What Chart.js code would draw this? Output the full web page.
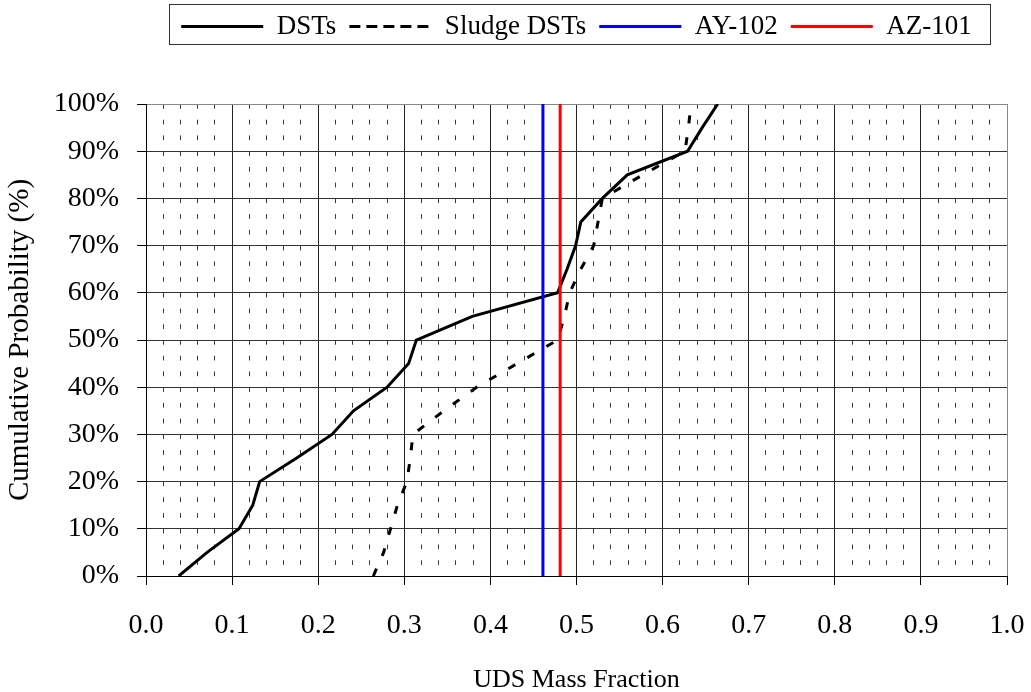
<!DOCTYPE html>
<html>
<head>
<meta charset="utf-8">
<script src="https://cdn.jsdelivr.net/npm/chart.js@4.4.1/dist/chart.umd.min.js"></script>
<style>
  html, body { margin: 0; padding: 0; background: #ffffff; overflow: hidden; }
  #wrap { width: 1031px; height: 692px; position: relative; }
</style>
</head>
<body>
<div id="wrap"><canvas id="c"></canvas></div>
<script>
// Cumulative probability levels shared by both distributions (0 % .. 100 % in 5 % steps)
const cumulativeProbability = [0, 0.05, 0.10, 0.15, 0.20, 0.25, 0.30, 0.35, 0.40, 0.45, 0.50,
                               0.55, 0.60, 0.65, 0.70, 0.75, 0.80, 0.85, 0.90, 0.95, 1.00];

// UDS mass fraction at each probability level
const dstsMassFraction = [0.038, 0.071, 0.108, 0.124, 0.132, 0.175, 0.216, 0.241, 0.280, 0.305, 0.314,
                          0.379, 0.478, 0.489, 0.499, 0.505, 0.530, 0.559, 0.629, 0.646, 0.664];
const sludgeDstsMassFraction = [0.264, 0.276, 0.284, 0.292, 0.303, 0.307, 0.310, 0.346, 0.384, 0.431, 0.478,
                                0.486, 0.492, 0.505, 0.520, 0.525, 0.530, 0.577, 0.626, 0.630, 0.633];

// Single-tank reference values
const ay102MassFraction = 0.461;
const az101MassFraction = 0.481;

// Axis tick labels
const xTickLabels = ['0.0', '0.1', '0.2', '0.3', '0.4', '0.5', '0.6', '0.7', '0.8', '0.9', '1.0'];
const yTickLabels = ['0%', '10%', '20%', '30%', '40%', '50%', '60%', '70%', '80%', '90%', '100%'];

// Layout
const PLOT_LEFT = 146, PLOT_TOP = 104, PLOT_BOTTOM = 576, RIGHT_PAD = 24;
const FONT = "'Liberation Serif', 'Times New Roman', serif";

const toPoints = (xs, ys) => xs.map((x, i) => ({ x: x, y: ys[i] }));
const verticalAt = (x) => [{ x: x, y: 0 }, { x: x, y: 1 }];

// Keeps the legend band a fixed height and draws a frame round the legend items
const legendFrame = {
  id: 'legendFrame',
  afterInit(chart) {
    const lg = chart.legend;
    const fit = lg.fit.bind(lg);
    lg.fit = function () { fit(); this.height = PLOT_TOP; };
  },
  afterDraw(chart) {
    const boxes = chart.legend && chart.legend.legendHitBoxes;
    if (!boxes || !boxes.length) return;
    const first = boxes[0], last = boxes[boxes.length - 1];
    const ctx = chart.ctx;
    ctx.save();
    ctx.strokeStyle = '#333333';
    ctx.lineWidth = 1;
    const x1 = Math.round(first.left - 12) + 0.5;
    const x2 = Math.round(last.left + last.width + 18) + 0.5;
    ctx.strokeRect(x1, 4.5, x2 - x1, 40);
    ctx.restore();
  }
};

Chart.defaults.font.family = FONT;
Chart.defaults.color = '#000000';

new Chart(document.getElementById('c'), {
  type: 'scatter',
  data: {
    datasets: [
      { label: 'DSTs', data: toPoints(dstsMassFraction, cumulativeProbability),
        showLine: true, borderColor: '#000000', backgroundColor: '#000000', borderWidth: 3,
        pointRadius: 0, tension: 0, order: 2 },
      { label: 'Sludge DSTs', data: toPoints(sludgeDstsMassFraction, cumulativeProbability),
        showLine: true, borderColor: '#000000', backgroundColor: '#000000', borderWidth: 3,
        borderDash: [8, 14], pointRadius: 0, tension: 0, order: 2 },
      { label: 'AY-102', data: verticalAt(ay102MassFraction),
        showLine: true, borderColor: '#0000ff', backgroundColor: '#0000ff', borderWidth: 3,
        pointRadius: 0, order: 1 },
      { label: 'AZ-101', data: verticalAt(az101MassFraction),
        showLine: true, borderColor: '#ff0000', backgroundColor: '#ff0000', borderWidth: 3,
        pointRadius: 0, order: 1 }
    ]
  },
  options: {
    responsive: true,
    maintainAspectRatio: false,
    devicePixelRatio: 1,
    animation: false,
    layout: { padding: { left: 0, right: RIGHT_PAD, top: 0, bottom: 0 } },
    plugins: {
      tooltip: { enabled: false },
      legend: {
        position: 'top',
        fullSize: false,
        labels: {
          font: { size: 27, family: FONT },
          color: '#000000',
          boxWidth: 82,
          boxHeight: 0,
          padding: 13,
          sort: (a, b) => a.datasetIndex - b.datasetIndex,
          generateLabels(chart) {
            const items = Chart.defaults.plugins.legend.labels.generateLabels(chart);
            items.forEach(it => {
              it.fillStyle = 'rgba(0,0,0,0)';
              if (it.lineDash && it.lineDash.length) it.lineDash = [8, 9];
            });
            return items;
          }
        }
      }
    },
    scales: {
      x: {
        type: 'linear',
        min: 0, max: 1,
        afterFit(scale) {
          scale.height = 692 - PLOT_BOTTOM;
          scale.paddingLeft = 0;
          scale.paddingRight = 0;
        },
        ticks: {
          stepSize: 0.02,
          autoSkip: false,
          maxRotation: 0,
          padding: 24,
          font: { size: 28 },
          color: '#000000',
          callback: (v, i) => (i % 5 === 0 ? xTickLabels[i / 5] : '')
        },
        grid: {
          drawTicks: true,
          tickLength: 9,
          lineWidth: 1,
          color: (ctx) => {
            if (ctx.index === 50) return '#888888';
            return ctx.index % 5 === 0 ? '#222222' : '#3a3a3a';
          },
          tickColor: (ctx) => (ctx.index % 5 === 0 ? '#000000' : 'rgba(0,0,0,0)')
        },
        border: {
          display: true,
          color: '#000000',
          width: 1,
          dash: (ctx) => {
            if (ctx.index === undefined || ctx.index % 5 === 0) return [];
            const h = ctx.chart.chartArea ? ctx.chart.chartArea.height : 472;
            const period = h / 30;
            return [period * 0.3, period * 0.7];
          }
        },
        title: {
          display: true,
          text: 'UDS Mass Fraction',
          font: { size: 26, lineHeight: 1 },
          color: '#000000',
          padding: { top: 0, bottom: -1 }
        }
      },
      y: {
        type: 'linear',
        min: 0, max: 1,
        afterFit(scale) { scale.width = PLOT_LEFT; },
        ticks: {
          stepSize: 0.1,
          padding: 18,
          font: { size: 28 },
          color: '#000000',
          callback: (v, i) => yTickLabels[i]
        },
        grid: {
          drawTicks: true,
          tickLength: 9,
          lineWidth: 1,
          color: (ctx) => (ctx.index === 10 ? '#888888' : '#333333'),
          tickColor: '#000000'
        },
        border: { display: true, color: '#000000', width: 1 },
        title: {
          display: true,
          text: 'Cumulative Probability (%)',
          font: { size: 29, lineHeight: 1 },
          color: '#000000',
          padding: { top: 6, bottom: 0 }
        }
      }
    }
  },
  plugins: [legendFrame]
});
</script>
</body>
</html>
